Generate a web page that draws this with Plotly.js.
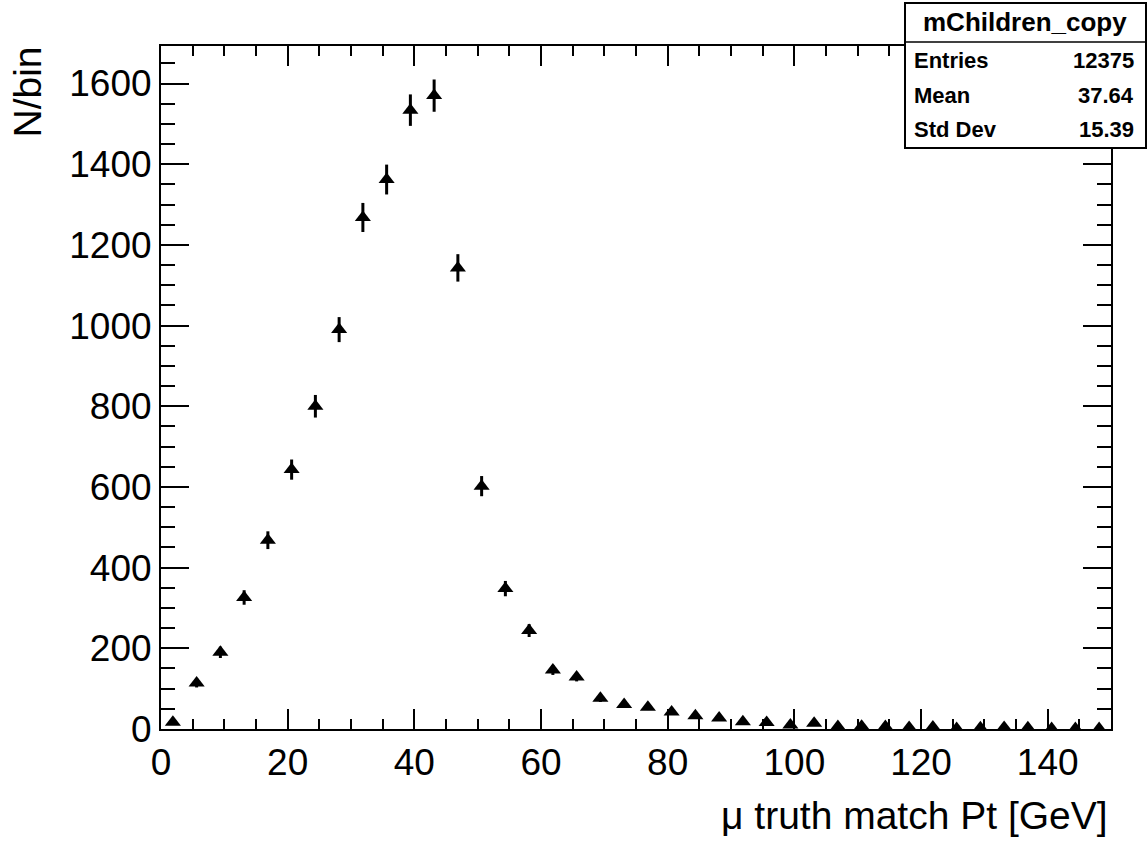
<!DOCTYPE html>
<html>
<head>
<meta charset="utf-8">
<script src="https://cdn.plot.ly/plotly-3.0.1.min.js"></script>
<style>
  html, body { margin: 0; padding: 0; background: #ffffff; }
  #chart { width: 1148px; height: 849px; }
</style>
</head>
<body>
<div id="chart"></div>
<script>
// Bin centres (GeV), 40 bins of width 3.75 from 0 to 150
const binCenters = [1.875, 5.625, 9.375, 13.125, 16.875, 20.625, 24.375, 28.125, 31.875, 35.625,
  39.375, 43.125, 46.875, 50.625, 54.375, 58.125, 61.875, 65.625, 69.375, 73.125,
  76.875, 80.625, 84.375, 88.125, 91.875, 95.625, 99.375, 103.125, 106.875, 110.625,
  114.375, 118.125, 121.875, 125.625, 129.375, 133.125, 136.875, 140.625, 144.375, 148.125];
// Counts per bin
const counts = [17, 114, 190, 326, 468, 643, 800, 990, 1268, 1362,
  1534, 1570, 1143, 602, 348, 244, 146, 129, 76, 61,
  54, 42, 33, 27, 18, 16, 10, 14, 6, 7,
  6, 4, 5, 1, 3, 4, 3, 1, 1, 1];
// Statistical errors per bin
const errors = [4, 11, 14, 18, 22, 25, 28, 31, 36, 37,
  39, 40, 34, 25, 19, 16, 12, 11, 9, 8,
  7, 6, 6, 5, 4, 4, 3, 4, 2, 3,
  2, 2, 2, 1, 2, 2, 2, 1, 1, 1];
const xTickVals = [0, 20, 40, 60, 80, 100, 120, 140];
const yTickVals = [0, 200, 400, 600, 800, 1000, 1200, 1400, 1600];
const statsTitle = "mChildren_copy";
const statsLabels = ["Entries", "Mean", "Std Dev"];
const statsValues = ["12375", "37.64", "15.39"];

const FONT = "Liberation Sans, Arial, Helvetica, sans-serif";

const trace = {
  type: "scatter",
  mode: "markers",
  x: binCenters,
  y: counts,
  marker: { symbol: "triangle-up", size: 14, color: "#000000", line: { width: 0 } },
  error_y: { type: "data", array: errors, visible: true, color: "#000000", thickness: 3, width: 0 },
  hoverinfo: "x+y"
};

// plot area in pixels: x 161..1111, y 46..729
const L = 161, R = 1111, T = 46, B = 729;
const px = v => (v - L) / (R - L);
const py = v => (B - v) / (B - T);

const annotations = [
  { text: "μ truth match Pt [GeV]", xref: "paper", yref: "paper", x: px(1110), y: py(815),
    xanchor: "right", yanchor: "middle", showarrow: false, font: { family: FONT, size: 39, color: "#000" } },
  { text: "N/bin", xref: "paper", yref: "paper", x: px(27), y: py(45), textangle: -90,
    xanchor: "center", yanchor: "top", showarrow: false, font: { family: FONT, size: 39, color: "#000" } },
  { text: "<b>" + statsTitle + "</b>", xref: "paper", yref: "paper", x: px(1025), y: py(22),
    xanchor: "center", yanchor: "middle", showarrow: false, font: { family: FONT, size: 26, color: "#000" } }
];
const rowY = [61, 95, 129];
for (let i = 0; i < statsLabels.length; i++) {
  annotations.push({ text: "<b>" + statsLabels[i] + "</b>", xref: "paper", yref: "paper", x: px(912), y: py(rowY[i]),
    xanchor: "left", yanchor: "middle", showarrow: false, font: { family: FONT, size: 22, color: "#000" } });
  annotations.push({ text: "<b>" + statsValues[i] + "</b>", xref: "paper", yref: "paper", x: px(1136), y: py(rowY[i]),
    xanchor: "right", yanchor: "middle", showarrow: false, font: { family: FONT, size: 22, color: "#000" } });
}

const shapes = [
  { type: "rect", xref: "paper", yref: "paper", x0: px(905), x1: px(1146), y0: py(148), y1: py(3),
    line: { color: "#000", width: 2 }, fillcolor: "#ffffff", layer: "above" },
  { type: "line", xref: "paper", yref: "paper", x0: px(905), x1: px(1146), y0: py(42), y1: py(42),
    line: { color: "#000", width: 1.5 }, layer: "above" }
];

const layout = {
  width: 1148, height: 849,
  margin: { l: L, r: 1148 - R, t: T, b: 849 - B, pad: 0 },
  paper_bgcolor: "#ffffff", plot_bgcolor: "#ffffff",
  showlegend: false,
  xaxis: {
    range: [0, 150], tickvals: xTickVals, ticktext: xTickVals.map(String),
    ticks: "inside", ticklen: 20, tickwidth: 2, tickcolor: "#000",
    minor: { dtick: 5, tick0: 0, ticks: "inside", ticklen: 10, tickwidth: 2, tickcolor: "#000" },
    showline: true, linecolor: "#000", linewidth: 2, mirror: "allticks",
    showgrid: false, zeroline: false,
    tickfont: { family: FONT, size: 37, color: "#000" }
  },
  yaxis: {
    range: [0, 1693], tickvals: yTickVals, ticktext: yTickVals.map(String),
    ticks: "inside", ticklen: 28, tickwidth: 2, tickcolor: "#000",
    minor: { dtick: 50, tick0: 0, ticks: "inside", ticklen: 14, tickwidth: 2, tickcolor: "#000" },
    showline: true, linecolor: "#000", linewidth: 2, mirror: "allticks",
    showgrid: false, zeroline: false,
    tickfont: { family: FONT, size: 37, color: "#000" }
  },
  annotations: annotations,
  shapes: shapes
};

Plotly.newPlot("chart", [trace], layout, { displayModeBar: false, staticPlot: true });
</script>
</body>
</html>
